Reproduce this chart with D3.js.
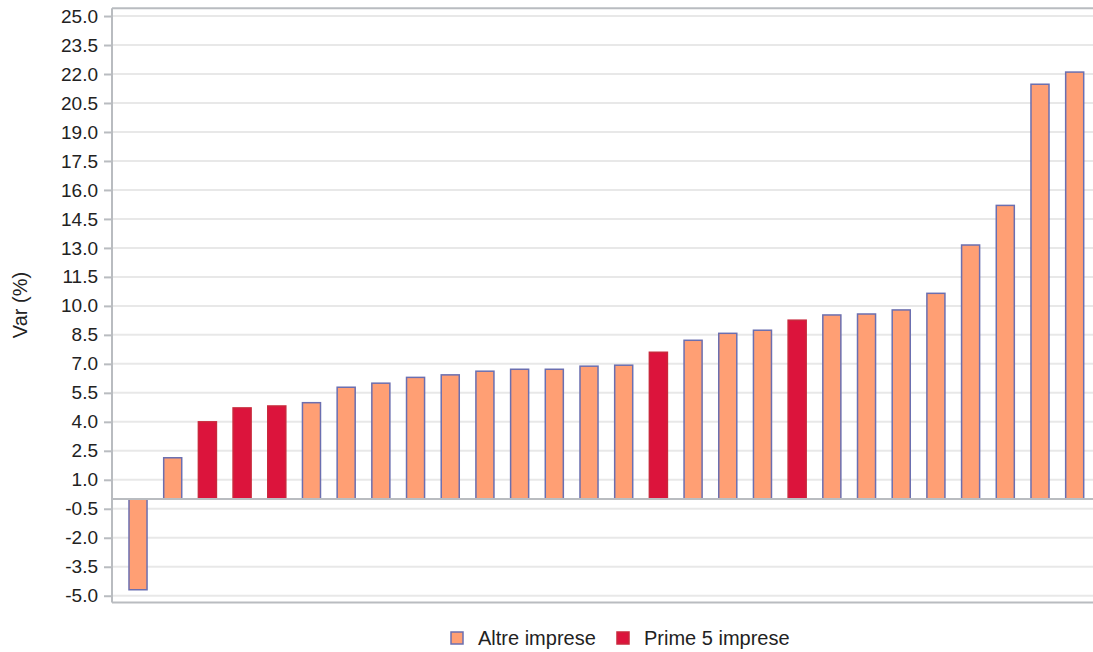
<!DOCTYPE html>
<html>
<head>
<meta charset="utf-8">
<script src="https://cdn.jsdelivr.net/npm/d3@7"></script>
<style>
  body { margin: 0; background: #fff; }
  svg text { font-family: "Liberation Sans", Arial, sans-serif; fill: #222; }
</style>
</head>
<body>
<svg id="chart" width="1093" height="652"></svg>
<script>
// values sorted ascending, one bar per company
const values = [-4.69, 2.14, 4.0, 4.72, 4.82, 4.99, 5.79, 6.0, 6.3, 6.43, 6.62, 6.72, 6.72, 6.88, 6.93,
  7.6, 8.22, 8.58, 8.74, 9.26, 9.53, 9.58, 9.79, 10.65, 13.15, 15.2, 21.47, 22.1];
// which series each bar belongs to
const groups = ['Altre', 'Altre', 'Prime', 'Prime', 'Prime', 'Altre', 'Altre', 'Altre', 'Altre', 'Altre',
  'Altre', 'Altre', 'Altre', 'Altre', 'Altre', 'Prime', 'Altre', 'Altre', 'Altre', 'Prime',
  'Altre', 'Altre', 'Altre', 'Altre', 'Altre', 'Altre', 'Altre', 'Altre'];
const seriesKeys = ['Altre', 'Prime'];
const seriesLabels = ['Altre imprese', 'Prime 5 imprese'];
const yTicks = d3.range(-5, 25.01, 1.5);

const fills = { Altre: '#ff9f74', Prime: '#dc143c' };
const strokes = { Altre: '#6b6fb0', Prime: '#c9283c' };

const svg = d3.select('#chart');
const plot = { left: 112, right: 1100.7, top: 8.3, bottom: 602.5 };

const x = d3.scaleBand()
  .domain(d3.range(values.length))
  .range([plot.left, plot.right])
  .paddingInner(0.48)
  .paddingOuter(0.49);

const y = d3.scaleLinear().domain([-5.35, 25.4]).range([plot.bottom, plot.top]);

// grid
svg.append('g')
  .selectAll('line')
  .data(yTicks)
  .join('line')
  .attr('x1', plot.left).attr('x2', 1093)
  .attr('y1', d => y(d)).attr('y2', d => y(d))
  .attr('stroke', '#e8e8e8')
  .attr('stroke-width', 2);

// frame lines
svg.append('line').attr('x1', plot.left).attr('x2', 1093).attr('y1', plot.top).attr('y2', plot.top)
  .attr('stroke', '#b9bcc0').attr('stroke-width', 2);
svg.append('line').attr('x1', plot.left).attr('x2', 1093).attr('y1', plot.bottom).attr('y2', plot.bottom)
  .attr('stroke', '#b9bcc0').attr('stroke-width', 2);

// bars
svg.append('g')
  .selectAll('rect')
  .data(values)
  .join('rect')
  .attr('x', (d, i) => x(i))
  .attr('width', x.bandwidth())
  .attr('y', d => y(Math.max(0, d)))
  .attr('height', d => Math.abs(y(d) - y(0)))
  .attr('fill', (d, i) => fills[groups[i]])
  .attr('stroke', (d, i) => strokes[groups[i]])
  .attr('stroke-width', 1.5);

// zero line
svg.append('line').attr('x1', plot.left).attr('x2', 1093).attr('y1', y(0)).attr('y2', y(0))
  .attr('stroke', '#b9bcc0').attr('stroke-width', 2);

// y axis (plain hyphen for negatives, like the original)
const fmt = d => d.toFixed(1);
const yAxis = svg.append('g')
  .attr('transform', `translate(${plot.left},0)`)
  .call(d3.axisLeft(y).tickValues(yTicks).tickFormat(fmt).tickSize(8).tickPadding(6));
yAxis.select('.domain').attr('stroke', '#b9bcc0').attr('stroke-width', 2)
  .attr('d', `M0,${plot.top}V${plot.bottom}`);
yAxis.selectAll('.tick line').attr('stroke', '#b9bcc0').attr('stroke-width', 2);
yAxis.selectAll('.tick text')
  .style('font-family', '"Liberation Sans", Arial, sans-serif')
  .style('font-size', '19px')
  .attr('fill', '#222');

svg.append('text')
  .attr('transform', 'translate(27,305) rotate(-90)')
  .attr('text-anchor', 'middle')
  .style('font-size', '20px')
  .text('Var (%)');

// legend
const legendX = [451, 617];
const legend = svg.append('g')
  .selectAll('g')
  .data(seriesKeys)
  .join('g')
  .attr('transform', (d, i) => `translate(${legendX[i]},632)`);
legend.append('rect')
  .attr('width', 12).attr('height', 12)
  .attr('fill', d => fills[d])
  .attr('stroke', d => strokes[d])
  .attr('stroke-width', 1.5);
legend.append('text')
  .attr('x', 27).attr('y', 13)
  .style('font-size', '20px')
  .text((d, i) => seriesLabels[i]);
</script>
</body>
</html>
